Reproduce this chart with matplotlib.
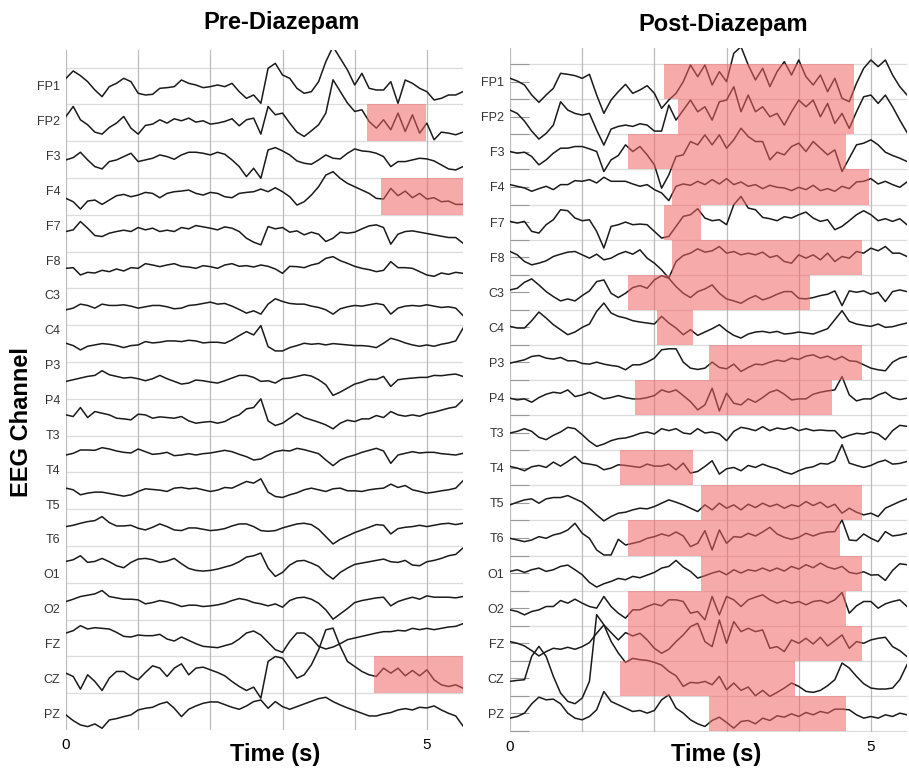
import numpy as np
import matplotlib.pyplot as plt
from matplotlib.patches import Rectangle

plt.rcParams['font.family'] = ['Liberation Sans', 'DejaVu Sans']

channels = ['FP1', 'FP2', 'F3', 'F4', 'F7', 'F8', 'C3', 'C4', 'P3', 'P4',
            'T3', 'T4', 'T5', 'T6', 'O1', 'O2', 'FZ', 'CZ', 'PZ']
t = np.arange(56) * 0.1          # s, one sample every 0.1 s

# Pre-Diazepam: the panel shows 18 traces (top to bottom)
pre = [
    [23, 45, 31, 13, -12, -32, -2, 8, 23, 13, -22, -27, -25, -7, -5, -2, 18, 8, 3, -5,
     -2, 3, -2, 8, -17, -37, -27, -52, 53, 68, 33, 23, -7, -22, -17, 13, 73, 118, 83, 48,
     3, 38, -7, -12, -12, 13, -52, 18, 8, -7, -17, -42, -37, -27, -27, -17],
    [19, 49, 9, -6, -28, -34, -14, -1, 19, -16, -34, -8, -4, 9, -1, 12, 6, 14, 2, 6,
     -4, -1, 4, 12, -9, 9, 14, -34, 49, 24, 29, -1, -28, -41, -24, -6, 29, 129, 94, 59,
     34, 39, 4, -16, 9, -21, 29, -26, 24, -31, -1, -51, -28, -31, -36, -28],
    [-1, 6, 22, -1, -21, -28, -6, -1, 9, 19, -6, -1, 4, 14, 9, 1, 14, 22, 22, 19,
     14, 22, 16, -1, -21, -51, -26, -56, 29, 36, 26, 14, -4, -11, -14, -1, 14, 4, 2, 19,
     32, 26, 24, 19, 9, -21, -6, -6, -1, 4, 2, -4, -16, -28, -31, -21],
    [-6, -16, -38, -14, -11, -24, -11, 2, 6, -1, 4, 12, 9, -4, 9, 14, 16, 19, 9, 4,
     12, 9, -1, -4, 9, 12, 14, 22, 14, 26, 14, -1, -26, -16, 4, 29, 64, 74, 54, 39,
     29, 19, 9, -6, -8, 24, 2, 16, -4, 9, -8, -4, -16, -14, -24, -24],
    [5, 10, 35, 15, -7, -10, 0, 5, 9, 5, 17, 10, 15, 5, 9, 5, 17, 13, 23, 19,
     15, 10, 19, 15, 5, -15, -27, -35, 20, 13, 17, 3, 7, -5, 3, -3, -25, -15, 3, 0,
     3, 13, 22, 25, 17, -33, -3, 5, 7, 3, -1, -5, -9, -13, -13, -30],
    [5, 7, -15, -7, -9, -1, -5, 3, -3, 7, 5, 19, 15, 10, 15, 19, 11, 9, 5, 13,
     10, 5, 15, 19, 11, 13, 9, 15, 11, 3, -10, 11, 10, 7, 15, 20, 35, 40, 28, 20,
     11, 5, 1, -5, -1, 25, 7, 7, 5, -5, -15, -19, -9, -13, -7, -10],
    [-9, -4, 8, 4, -4, 8, 4, 4, 6, 2, -4, 0, 4, 4, 0, -6, -4, 4, 6, 10,
     14, 8, 10, 2, -8, -19, -12, -22, 8, 24, 16, 10, 8, 8, 2, -2, -9, -22, -6, 0,
     4, 2, 6, 10, 6, -22, -4, 2, 4, 2, 6, 2, -2, 0, -4, -26],
    [1, -6, -19, -8, -4, 0, -2, -6, -12, -6, -4, 6, 2, 4, 8, 8, 6, 10, 8, 2,
     4, 4, 1, 11, 24, 36, 26, 54, -9, -22, -22, -12, -6, 1, -2, 0, -4, 0, -2, -4,
     -6, -6, -8, -12, 1, 16, 10, 2, -4, -8, -4, -8, -2, 2, 8, 46],
    [-3, 2, 7, 12, 15, 29, 17, 12, 7, 9, 5, -1, 5, 15, 5, -3, -11, -8, 1, -1,
     -5, -8, -1, 7, 15, 15, 9, -3, -1, -8, 5, 7, 12, 17, 13, 2, -13, -45, -35, -23,
     -11, -5, 3, 3, 12, -18, 2, 5, 7, 9, 9, 15, 14, 17, 19, 12],
    [7, 2, 29, -1, 17, 12, 7, -3, -5, -8, 9, 7, -3, 1, -1, -3, 2, -11, -18, -15,
     -13, -18, -13, -1, 7, 25, 29, 55, -11, -25, -18, -3, 12, -1, -8, -15, -23, -35, -18, -9,
     -13, -5, -5, 5, -1, 17, 7, 3, 7, 3, 11, 15, 21, 27, 31, 52],
    [-3, 2, 12, 12, 11, 19, 15, 9, 5, 3, 15, 7, -1, 1, 5, -5, -3, 1, -3, 1,
     3, 7, 11, 7, -1, -8, -18, -15, -3, 7, 11, 9, 17, 13, 7, 1, -18, -35, -18, -9,
     -3, 5, 11, 17, 9, -28, -3, 2, 7, 3, 5, 5, 1, -1, -3, 2],
    [8, 3, -12, -7, -4, -4, -8, -12, -16, -12, -2, 6, 4, 2, -2, 8, 10, 6, 8, 3,
     -2, 2, 10, 8, 18, 28, 23, 36, -4, -17, -20, -12, -6, 3, 8, 3, -2, 6, 8, 0,
     0, -2, 3, 6, 8, 20, 10, 16, 3, -2, -7, -4, 0, 3, 8, 30],
    [3, 7, 13, 18, 21, 33, 15, 5, 5, 7, -2, -7, 1, 11, 3, -7, -9, -1, -1, -5,
     -9, -7, -3, 5, 11, 11, 3, -9, -11, -9, -1, 5, 11, 13, 9, -5, -27, -49, -35, -25,
     -15, -7, 1, 9, 7, -19, -3, 1, 3, 7, 3, 7, 11, 13, 9, 13],
    [9, 14, 26, 6, 9, 18, 8, -4, -10, 6, 16, 18, 14, 6, 10, 18, 2, -12, -18, -20,
     -18, -14, -8, -2, 8, 22, 26, 34, -11, -36, -24, -2, 10, 12, 4, -6, -28, -44, -24, -11,
     0, 4, 8, 12, 16, 8, 6, 12, -2, -4, 8, 12, 18, 26, 30, 49],
    [-1, 6, 14, 18, 22, 32, 14, 10, 6, 6, 4, -8, -4, 2, -2, -8, -16, -12, -12, -16,
     -14, -11, -6, 2, 8, 4, -4, -8, -14, -8, -18, 2, 10, 12, 6, -6, -26, -54, -38, -22,
     -4, 2, 6, 10, 12, -14, -1, 6, 12, 6, 16, 12, 12, 12, 10, 14],
    [15, 22, 37, 27, 31, 29, 27, 17, 5, 3, 9, 7, 7, 11, -3, -9, 3, -7, -17, -25,
     -27, -29, -23, -17, -3, 15, 21, 9, -13, -35, -43, -10, 15, 15, 0, -25, -33, -27, -17, -5,
     0, 5, 10, 15, 19, 19, 23, 21, 29, 25, 29, 25, 29, 33, 35, 43],
    [5, -5, -43, 0, -20, -47, -10, 10, 10, -5, -15, 7, 27, 20, -5, 20, 33, 0, 20, 23,
     15, 7, -3, -20, -35, -47, -37, -70, 40, 55, 50, 20, -10, 0, 30, 75, 135, 140, 85, 40,
     25, 10, 0, -5, 20, 5, 20, -3, 13, -3, 15, -15, -30, -35, -30, -40],
    [-10, -27, -40, -45, -37, -50, -25, -21, -15, -10, 5, 10, 13, 23, 29, 10, -15, 7, 17, 25,
     29, 29, 21, 13, 7, 17, 30, 35, 10, 30, 15, 7, 15, 23, 31, 39, 43, 30, 20, 11,
     3, -5, -13, -13, -7, -3, 5, 9, 5, 13, 11, 17, 5, -5, -13, -43],
]

# Post-Diazepam: one trace per channel, same order as channels
post = [
    [10, 2, -10, -40, -62, -40, -20, 25, 22, 18, 10, 22, -40, -95, -55, -30, -8, -35, -25, -12,
     -35, -80, -55, -35, 0, 50, 15, 50, -10, 30, 0, 85, 105, 50, 5, 40, -15, 30, 60, 20,
     65, 15, -10, 20, -30, 10, -50, -60, -5, 40, 65, 45, 65, 20, -15, -40],
    [20, 10, -13, -43, -67, -50, -25, 45, 20, 10, 5, 10, -40, -85, -37, -29, -25, -29, -21, -25,
     -43, -43, 35, -10, 20, 50, 15, 30, -10, 45, 50, 90, 15, 65, 15, 30, 0, 10, -25, 15,
     50, 30, 50, 0, 40, -20, 10, -35, 15, 60, 65, 40, 65, 30, -10, -47],
    [1, -4, -1, -14, -39, -24, -4, 11, 11, 16, 16, 9, 1, -59, -24, -11, 21, 1, 16, -9,
     -39, -109, -69, -14, -9, 31, 21, 51, 21, 51, 11, 36, 71, 46, 31, 31, -24, -1, -9, 16,
     26, 1, 31, 11, -9, 6, -59, -19, 21, 26, 36, 21, -1, -11, -19, -29],
    [7, 2, -3, -13, -5, 2, -8, 7, 7, 19, 17, 22, 12, 29, 17, 17, 17, 9, 2, 7,
     -8, -18, -41, 2, 9, 5, 17, 7, 22, 9, 25, 7, 15, 2, 7, -5, 5, -1, -3, -11,
     -1, -8, 5, -11, -5, -13, 2, -5, 15, 17, 25, 9, 17, 7, -1, 15],
    [2, -3, 2, -28, -33, -8, 7, 37, 34, 12, 4, 7, -28, -78, -13, -8, 0, -8, -6, -8,
     -28, -48, -43, -13, 17, 22, 40, 12, 4, 7, -8, 52, 77, 42, 37, 14, 10, 4, 16, 12,
     22, 30, 12, 2, 7, -23, -13, 4, 22, 34, 22, 4, 10, 2, 10, -8],
    [17, 7, -13, -23, -18, -11, 2, 9, 15, 17, 7, -3, 9, -8, -3, 9, 17, 9, 22, -3,
     -18, -38, -63, -13, 5, 12, 25, 15, 19, 32, 12, 17, 7, 12, 7, 15, -1, 5, -13, -18,
     7, -3, 7, -8, 12, -13, 2, -3, 17, 12, 27, 19, 32, 12, 12, 2],
    [7, 12, 30, 40, 22, 2, -13, -26, -20, -26, -10, 4, 32, 37, -3, -16, -3, 14, 20, 12,
     37, 50, 42, 17, -3, -16, 2, 10, 22, -3, -20, -26, -33, -20, -10, -23, -16, -6, 2, 2,
     -18, -20, -16, -10, -6, 4, -40, 4, 0, 4, -6, 0, -28, 2, 7, 2],
    [3, -2, -2, 20, 46, 28, 8, -7, -22, -14, 0, 10, 48, 73, 43, 33, 28, 20, 16, 13,
     10, 33, 13, -2, -22, -7, -24, -14, -4, 8, -10, -24, -32, -20, -14, -12, -16, -12, -20, -18,
     -14, -17, -20, -12, -4, 23, 50, 18, 10, 6, 3, 10, 0, 2, 8, 13],
    [-2, 3, 8, 18, 21, 13, 10, 15, 5, 5, -3, -5, 1, -5, -9, -12, -22, -7, -7, 1,
     13, 38, 41, 41, 1, -17, -21, -17, 1, -15, -19, -5, -27, -15, -5, -7, 1, 7, 3, 13,
     9, 19, 23, 13, 19, 8, 18, 5, 3, -7, -17, -22, -25, 1, 13, 18],
    [-2, -7, -4, -14, 0, 10, 16, 13, 23, 3, 8, 16, 6, -4, 0, 6, 0, -4, -4, 0,
     6, 23, 16, 23, 6, -12, -37, -22, 28, -40, 13, -17, -22, -4, -14, 0, 16, 23, 10, -7,
     -4, -4, 10, 16, 20, 23, 63, 8, -10, -4, -4, 8, 16, 0, -6, -2],
    [-1, 4, 12, 4, -14, -21, -8, 2, 16, 12, -6, -26, -41, -34, -24, -18, -16, -10, -2, 2,
     -4, 12, 6, 12, -1, -4, 12, -1, 2, -4, -24, 4, 16, 12, 6, 18, 6, 14, 10, 16,
     6, 12, 6, 8, 6, 6, -16, -8, -2, -4, 2, -4, -21, 6, 22, 19],
    [4, -1, -9, 3, 7, 1, 17, 5, 19, 34, 14, 11, 7, -6, -1, 9, 7, 4, 1, 11,
     5, 5, 11, -6, 14, -16, -11, 4, 21, -19, -3, 1, -9, 7, 1, 11, 3, -3, -13, -19,
     -9, -1, 3, 13, 11, 21, 69, 14, 7, 1, 7, 17, 23, 11, 13, 19],
    [-6, 2, 9, 12, -1, 12, 16, 16, 22, 12, 2, -16, -36, -54, -41, -31, -28, -21, -16, -18,
     -11, -1, 9, 2, -6, -16, -26, -6, -21, -1, -16, -6, -21, -4, -14, -1, -11, -4, -16, -6,
     -11, 4, -8, 2, -14, -4, -31, -16, -28, -36, -31, -41, -16, -6, 4, 12],
    [-1, -6, -11, -6, 4, -1, 9, 14, 24, 44, 14, -1, -36, -51, -51, -4, -21, -16, -11, -1,
     4, 12, 6, 18, 6, -26, -16, 22, -36, 24, -16, 4, 2, 14, 6, 18, 32, 12, 2, -4,
     2, 14, 6, 14, 18, 19, 54, -6, -8, 12, -1, -11, 19, 6, 9, 14],
    [5, 10, 2, 10, 15, 5, 10, 20, 24, 10, -5, -28, -42, -32, -25, -16, -20, -10, -14, -6,
     2, 15, 20, 38, 18, 5, -15, -8, 0, 6, -5, 10, 0, 10, 6, 15, 6, 15, 6, 20,
     12, 25, 16, 30, 18, 12, 20, 2, -2, 4, -6, -5, -22, 8, 28, 25],
    [-5, -10, -20, -10, -5, 5, 5, 23, 15, 27, 15, 5, 0, 35, 5, -15, -30, -5, -5, 5,
     13, 7, 25, 25, 20, -15, -10, -35, 35, -20, 35, 25, 5, 25, 33, 40, 25, 15, 23, 15,
     20, 10, 20, 23, 15, 25, 47, -15, 7, 20, 20, 0, 13, 20, 25, 5],
    [5, 0, -8, -22, -38, -25, -15, -18, -12, -18, -10, 2, 30, 55, 32, 10, 32, 22, 30, 10,
     -15, -30, -18, 5, 25, 50, 60, 5, -10, 70, 0, 65, 35, 45, 35, 40, -15, -10, -25, 10,
     0, 15, -2, 18, -8, 8, 25, -15, 5, 0, 10, 15, 18, -10, -22, -40],
    [-9, -6, -4, 66, 96, 66, 6, -44, -69, -76, -59, -9, 191, 161, 111, 76, 48, 60, 56, 54,
     48, 40, 21, 8, -24, -12, -14, -9, -19, 6, -34, -14, -36, -26, -52, -36, -54, -42, -29, -14,
     -24, -39, -42, -36, -22, -4, 46, 31, 6, -16, -29, -32, -32, -29, -4, 41],
    [-14, -9, 1, 29, 49, 41, 43, 29, 1, -14, -19, -9, 11, 66, 36, 26, 16, 6, 9, 1,
     9, 41, 56, 16, 1, -19, -31, -39, -21, -11, -27, -44, -24, -21, -31, -14, -21, -7, -11, -1,
     -9, 3, -4, 6, 1, 13, 13, 11, -4, -14, -9, -14, -4, -9, 1, -4],
]

# highlighted segments: (row, start s, end s)
pre_marks = [(1, 4.17, 4.99), (3, 4.37, 5.5), (16, 4.27, 5.5)]
post_marks = [(0, 2.14, 4.77), (1, 2.33, 4.77), (2, 1.63, 4.66), (3, 2.24, 4.98),
              (4, 2.14, 2.64), (5, 2.24, 4.87), (6, 1.63, 4.16), (7, 2.03, 2.54),
              (8, 2.75, 4.87), (9, 1.73, 4.46), (11, 1.52, 2.54), (12, 2.65, 4.87),
              (13, 1.64, 4.57), (14, 2.65, 4.87), (15, 1.64, 4.66), (16, 1.64, 4.87),
              (17, 1.52, 3.95), (18, 2.75, 4.66)]

fig = plt.figure(figsize=(9.09, 7.69), dpi=100)


def panel(rect, traces, marks, row, ylim, label_step, tick_len):
    ax = fig.add_axes(rect)
    for k, tr in enumerate(traces):
        ax.plot(t, -k * row + np.array(tr), color='#1a1a1a', lw=1.1, zorder=3)
    for k, t0, t1 in marks:
        ax.add_patch(Rectangle((t0, -k * row - row / 2), t1 - t0, row,
                               facecolor='#f26464', edgecolor='none', alpha=0.55, zorder=4))
    edges = row / 2 - row * np.arange(len(traces) + 1)
    for e in edges:
        ax.axhline(e, color='#dcdcdc', lw=0.9, zorder=1)
    ax.set_xlim(0, 5.5)
    ax.set_ylim(*ylim)
    ax.set_xticks(range(6))
    ax.set_xticklabels(['0', '', '', '', '', '5'], fontsize=11)
    ax.grid(axis='x', color='#bcbcbc', lw=0.9)
    ax.set_yticks(-label_step * np.arange(len(channels)))
    ax.set_yticklabels(channels, fontsize=9, color='#333333')
    ax.set_yticks(edges, minor=True)
    ax.tick_params(axis='x', length=0, pad=6)
    ax.tick_params(axis='y', which='both', direction='in', length=tick_len,
                   color='#999999', width=0.8, pad=4)
    for s in ax.spines.values():
        s.set_visible(False)
    return ax


panel([0.0726, 0.0507, 0.4367, 0.8843], pre, pre_marks, 110.4, (-1932, 108), 104.5, 0)
panel([0.5611, 0.0481, 0.4367, 0.8895], post, post_marks, 105.3, (-1951, 101), 105.3, 14)

fig.text(282 / 909, 1 - 22 / 769, 'Pre-Diazepam', ha='center', va='center',
         fontsize=17, fontweight='bold')
fig.text(723 / 909, 1 - 24 / 769, 'Post-Diazepam', ha='center', va='center',
         fontsize=17, fontweight='bold')
fig.text(275 / 909, 1 - 755 / 769, 'Time (s)', ha='center', va='center',
         fontsize=17, fontweight='bold')
fig.text(716 / 909, 1 - 755 / 769, 'Time (s)', ha='center', va='center',
         fontsize=17, fontweight='bold')
fig.text(22 / 909, 1 - 422 / 769, 'EEG Channel', ha='center', va='center',
         rotation=90, fontsize=17, fontweight='bold')

fig.savefig('out.png', dpi=100)
